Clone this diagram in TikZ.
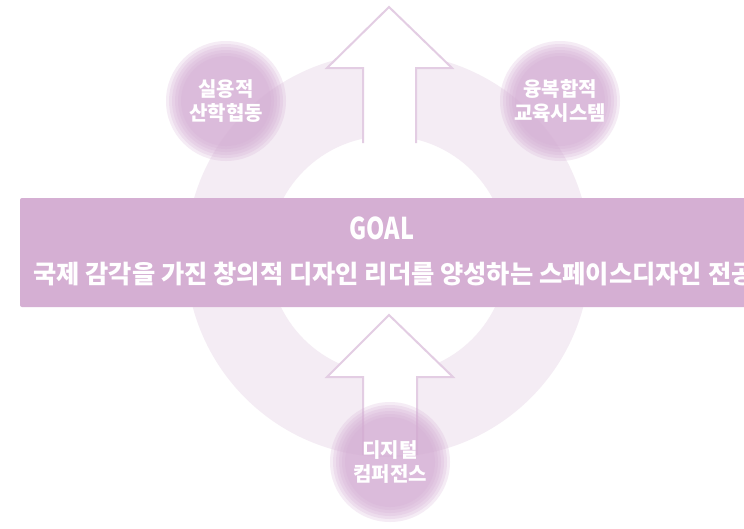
\documentclass[tikz,border=0pt]{standalone}
\usepackage{fontspec}
\newfontfamily\kr{Noto Sans CJK KR}
\newfontfamily\goalfont{Noto Sans CJK KR}[FakeStretch=0.78]
\definecolor{ringc}{HTML}{F4ECF4}
\definecolor{arrowc}{HTML}{E3CDE3}
\definecolor{bannerc}{HTML}{D5AFD3}
\definecolor{circc}{HTML}{D3A9D2}
\tikzset{
  arrowline/.style={draw=arrowc, line width=2pt, line join=miter},
  glowtext/.style={text=white, font=\kr\bfseries\fontsize{20}{24}\selectfont, align=center},
}
\begin{document}
\begin{tikzpicture}[x=1pt,y=-1pt]
\useasboundingbox (0,0) rectangle (744,528);
\fill[white] (0,0) rectangle (744,528);
% ring
\fill[ringc, even odd rule] (388,255) circle (202) (388,255) circle (119);
% top arrow
\fill[white] (363,143) -- (363,68) -- (327,68) -- (389,7) -- (452,68) -- (416,68) -- (416,143) -- cycle;
\draw[arrowline] (363,143) -- (363,68) -- (327,68) -- (389,7) -- (452,68) -- (416,68) -- (416,143);
% bottom arrow
\fill[white] (363,455) -- (363,377) -- (327,377) -- (389,315) -- (453,377) -- (417,377) -- (417,455) -- cycle;
\draw[arrowline] (363,455) -- (363,377) -- (327,377) -- (389,315) -- (453,377) -- (417,377) -- (417,455);
% banner
\fill[bannerc, rounded corners=2] (20,198) rectangle (770,307);
\node[text=white, font=\goalfont\bfseries\fontsize{30}{34}\selectfont, inner sep=0pt] (goal) at (382,228) {GOAL};
\node[text=white, font=\kr\bfseries\fontsize{25.3}{29}\selectfont, inner sep=0pt, anchor=west] (mission) at (33,274) {국제 감각을 가진 창의적 디자인 리더를 양성하는 스페이스디자인 전공};
% glow circles
\foreach \cx/\cy/\nm in {226/101/c1, 560/101/c2, 390/462/c3}{
  \foreach \r in {60,57,54,51,48,45}{
    \fill[circc, fill opacity=0.22] (\cx,\cy) circle (\r);
  }
  \coordinate (\nm) at (\cx,\cy);
}
\node[glowtext] (t1) at (c1) {실용적\\산학협동};
\node[glowtext] (t2) at (c2) {융복합적\\교육시스템};
\node[glowtext] (t3) at (c3) {디지털\\컴퍼전스};
\end{tikzpicture}
\end{document}
